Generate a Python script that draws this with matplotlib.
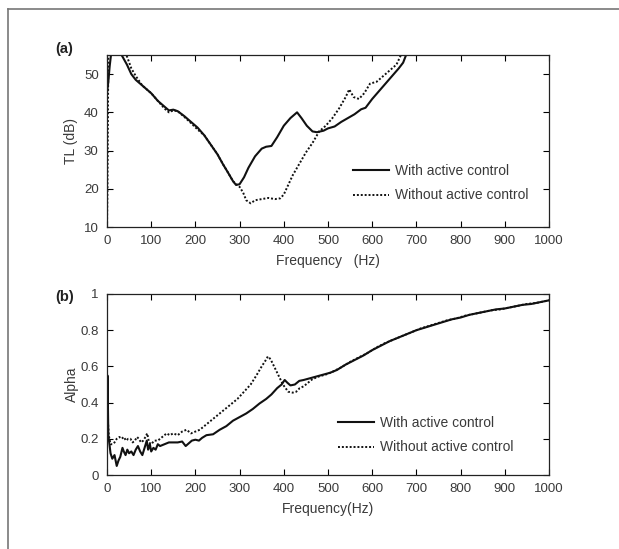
import matplotlib
matplotlib.use("Agg")
import matplotlib.pyplot as plt
from matplotlib.lines import Line2D

plt.rcParams['font.family'] = ['Liberation Sans', 'DejaVu Sans']

# ---------- (a) transmission loss ----------
freq_a_with = [0, 3, 6, 9, 15, 25, 33, 45, 55, 65, 80, 100, 115, 130, 140, 150, 160, 175,
               190, 205, 220, 235, 250, 262, 275, 285, 292, 300, 310, 320, 335, 350, 360,
               372, 385, 400, 415, 430, 440, 452, 465, 475, 490, 500, 515, 530, 545, 560,
               575, 585, 600, 615, 630, 645, 660, 670, 680]
tl_with = [45, 48, 52, 55, 58, 58, 55, 52.5, 50, 48.5, 47, 45, 43, 41.5, 40.5, 40.7, 40.3, 39,
           37.5, 36, 34, 31.5, 29, 26.5, 24, 22, 21, 21.2, 23, 25.5, 28.5, 30.5, 31,
           31.2, 33.5, 36.5, 38.5, 40, 38.5, 36.5, 35, 34.8, 35.2, 35.8, 36.3, 37.5, 38.5, 39.5,
           40.8, 41.2, 43.5, 45.5, 47.5, 49.5, 51.5, 53, 56]

freq_a_without = [0, 1, 3, 5, 10, 25, 44, 55, 65, 80, 100, 115, 130, 140, 150, 160, 175,
                  190, 205, 220, 235, 250, 262, 275, 285, 292, 300, 308, 315, 325, 335, 350,
                  365, 380, 392, 400, 410, 420, 435, 450, 465, 480, 495, 510, 525, 540, 548,
                  558, 570, 582, 595, 610, 625, 640, 655, 665, 675]
tl_without = [10, 20, 55, 60, 60, 60, 55, 51.5, 49.5, 47, 45, 43, 41, 40, 40.5, 40.3, 38.8,
              37.2, 35.5, 34, 31.5, 29, 26.5, 24, 22, 21.2, 20.5, 19, 17, 16.2, 17, 17.3,
              17.6, 17.3, 17.5, 18.5, 21, 23.5, 26.5, 29.5, 32, 35, 36.5, 38.5, 41, 44, 46,
              44, 43.5, 45, 47.5, 48, 49.5, 51, 52.5, 55, 57]

# ---------- (b) absorption coefficient ----------
freq_b_with = [0, 1, 2, 3, 5, 8, 12, 17, 22, 26, 30, 35, 38, 42, 46, 50, 55, 60, 65, 70, 75,
               80, 85, 90, 93, 97, 100, 105, 110, 115, 120, 130, 140, 150, 160, 170, 178,
               185, 192, 200, 208, 215, 225, 240, 255, 270, 285, 300, 315, 330, 345, 360,
               372, 385, 395, 402, 408, 415, 425, 435, 445, 460, 475, 490, 505, 520, 540,
               560, 580, 600, 620, 640, 660, 680, 700, 720, 740, 760, 780, 800, 820, 840,
               860, 880, 900, 920, 940, 960, 980, 1000]
alpha_with = [0.30, 0.55, 0.40, 0.22, 0.18, 0.12, 0.09, 0.11, 0.05, 0.08, 0.10, 0.15, 0.13,
              0.11, 0.14, 0.12, 0.13, 0.11, 0.14, 0.16, 0.13, 0.11, 0.15, 0.19, 0.14, 0.17,
              0.13, 0.15, 0.14, 0.17, 0.16, 0.17, 0.18, 0.18, 0.18, 0.185, 0.16, 0.175, 0.19,
              0.195, 0.19, 0.205, 0.22, 0.225, 0.25, 0.27, 0.30, 0.32, 0.34, 0.365, 0.395,
              0.42, 0.445, 0.48, 0.50, 0.525, 0.51, 0.495, 0.50, 0.52, 0.525, 0.535, 0.545,
              0.555, 0.565, 0.58, 0.61, 0.635, 0.66, 0.69, 0.715, 0.74, 0.76, 0.78, 0.80,
              0.815, 0.83, 0.845, 0.86, 0.87, 0.885, 0.895, 0.905, 0.915, 0.92, 0.93, 0.94,
              0.945, 0.955, 0.965]

freq_b_without = [0, 1, 2, 4, 8, 12, 17, 22, 28, 33, 38, 43, 48, 53, 58, 63, 68, 72, 77, 82,
                  87, 91, 95, 100, 107, 115, 125, 135, 142, 150, 160, 170, 180, 190, 200,
                  210, 220, 235, 250, 265, 280, 295, 310, 325, 338, 350, 358, 364, 370, 378,
                  388, 398, 410, 420, 428, 436, 445, 455, 465, 480, 495, 510, 530, 550, 570,
                  590, 610, 630, 650, 670, 690, 710, 730, 750, 770, 790, 810, 830, 850, 870,
                  890, 910, 930, 950, 970, 990, 1000]
alpha_without = [0.20, 0.40, 0.30, 0.22, 0.17, 0.17, 0.18, 0.20, 0.21, 0.20, 0.21, 0.19,
                 0.20, 0.20, 0.18, 0.19, 0.21, 0.20, 0.18, 0.19, 0.21, 0.23, 0.18, 0.17,
                 0.19, 0.19, 0.21, 0.23, 0.22, 0.23, 0.22, 0.24, 0.25, 0.23, 0.24, 0.25,
                 0.27, 0.30, 0.33, 0.36, 0.39, 0.42, 0.46, 0.50, 0.55, 0.60, 0.63, 0.655,
                 0.64, 0.60, 0.55, 0.50, 0.46, 0.455, 0.46, 0.48, 0.49, 0.51, 0.53, 0.545,
                 0.555, 0.57, 0.595, 0.625, 0.65, 0.675, 0.705, 0.73, 0.75, 0.77, 0.79,
                 0.81, 0.825, 0.84, 0.855, 0.865, 0.88, 0.89, 0.90, 0.91, 0.915, 0.925, 0.935,
                 0.945, 0.95, 0.96, 0.965]

x_ticks = [0, 100, 200, 300, 400, 500, 600, 700, 800, 900, 1000]
a_yticks = [10, 20, 30, 40, 50]
b_yticks = [0, 0.2, 0.4, 0.6, 0.8, 1]
b_yticklabels = ['0', '0.2', '0.4', '0.6', '0.8', '1']
labels = ['With active control', 'Without active control']

W, H = 619, 549
fig = plt.figure(figsize=(W / 100, H / 100), dpi=100)
fig.patch.set_facecolor('white')

txt = '#3a3a3a'

def px_axes(l, t, r, b):
    return fig.add_axes([l / W, 1 - b / H, (r - l) / W, (b - t) / H])

def style(ax):
    ax.tick_params(direction='in', length=4, width=0.8, top=True, right=True,
                   labelsize=9.5, labelcolor=txt, pad=6)
    for s in ax.spines.values():
        s.set_linewidth(0.9)
        s.set_color('#222222')

ax1 = px_axes(107, 55, 549, 227)
ax1.plot(freq_a_with, tl_with, color='#111111', lw=1.5, ls='-', label=labels[0])
ax1.plot(freq_a_without, tl_without, color='#111111', lw=1.4, ls=(0, (1, 1)), label=labels[1])
ax1.set_xlim(0, 1000)
ax1.set_ylim(10, 55)
ax1.set_xticks(x_ticks)
ax1.set_yticks(a_yticks)
style(ax1)
ax1.set_xlabel('Frequency   (Hz)', fontsize=10, color=txt, labelpad=5)
ax1.set_ylabel('TL (dB)', fontsize=10, color=txt, labelpad=4)
leg1 = ax1.legend(loc='upper left', bbox_to_anchor=(353 / W, 1 - 164 / H),
                  bbox_transform=fig.transFigure, frameon=False, fontsize=10,
                  handlelength=2.6, handletextpad=0.4, labelspacing=0.75,
                  borderpad=0, borderaxespad=0)
for t in leg1.get_texts():
    t.set_color(txt)
fig.text(55 / W, 1 - 49 / H, '(a)', fontsize=10.5, fontweight='bold', color='#222222',
         ha='left', va='center')

ax2 = px_axes(107, 294, 549, 475)
ax2.plot(freq_b_with, alpha_with, color='#111111', lw=1.5, ls='-', label=labels[0])
ax2.plot(freq_b_without, alpha_without, color='#111111', lw=1.4, ls=(0, (1, 1)),
         label=labels[1])
ax2.set_xlim(0, 1000)
ax2.set_ylim(0, 1)
ax2.set_xticks(x_ticks)
ax2.set_yticks(b_yticks)
ax2.set_yticklabels(b_yticklabels)
style(ax2)
ax2.set_xlabel('Frequency(Hz)', fontsize=10, color=txt, labelpad=5)
ax2.set_ylabel('Alpha', fontsize=10, color=txt, labelpad=1)
leg2 = ax2.legend(loc='upper left', bbox_to_anchor=(338 / W, 1 - 416 / H),
                  bbox_transform=fig.transFigure, frameon=False, fontsize=10,
                  handlelength=2.6, handletextpad=0.4, labelspacing=0.75,
                  borderpad=0, borderaxespad=0)
for t in leg2.get_texts():
    t.set_color(txt)
fig.text(55 / W, 1 - 297 / H, '(b)', fontsize=10.5, fontweight='bold', color='#222222',
         ha='left', va='center')

# outer frame (top and left edges)
fig.add_artist(Line2D([8 / W, 1], [1 - 9 / H, 1 - 9 / H], transform=fig.transFigure,
                      color='#777777', lw=1.2))
fig.add_artist(Line2D([8 / W, 8 / W], [1 - 9 / H, 0], transform=fig.transFigure,
                      color='#777777', lw=1.2))

fig.savefig('out.png', dpi=100)
